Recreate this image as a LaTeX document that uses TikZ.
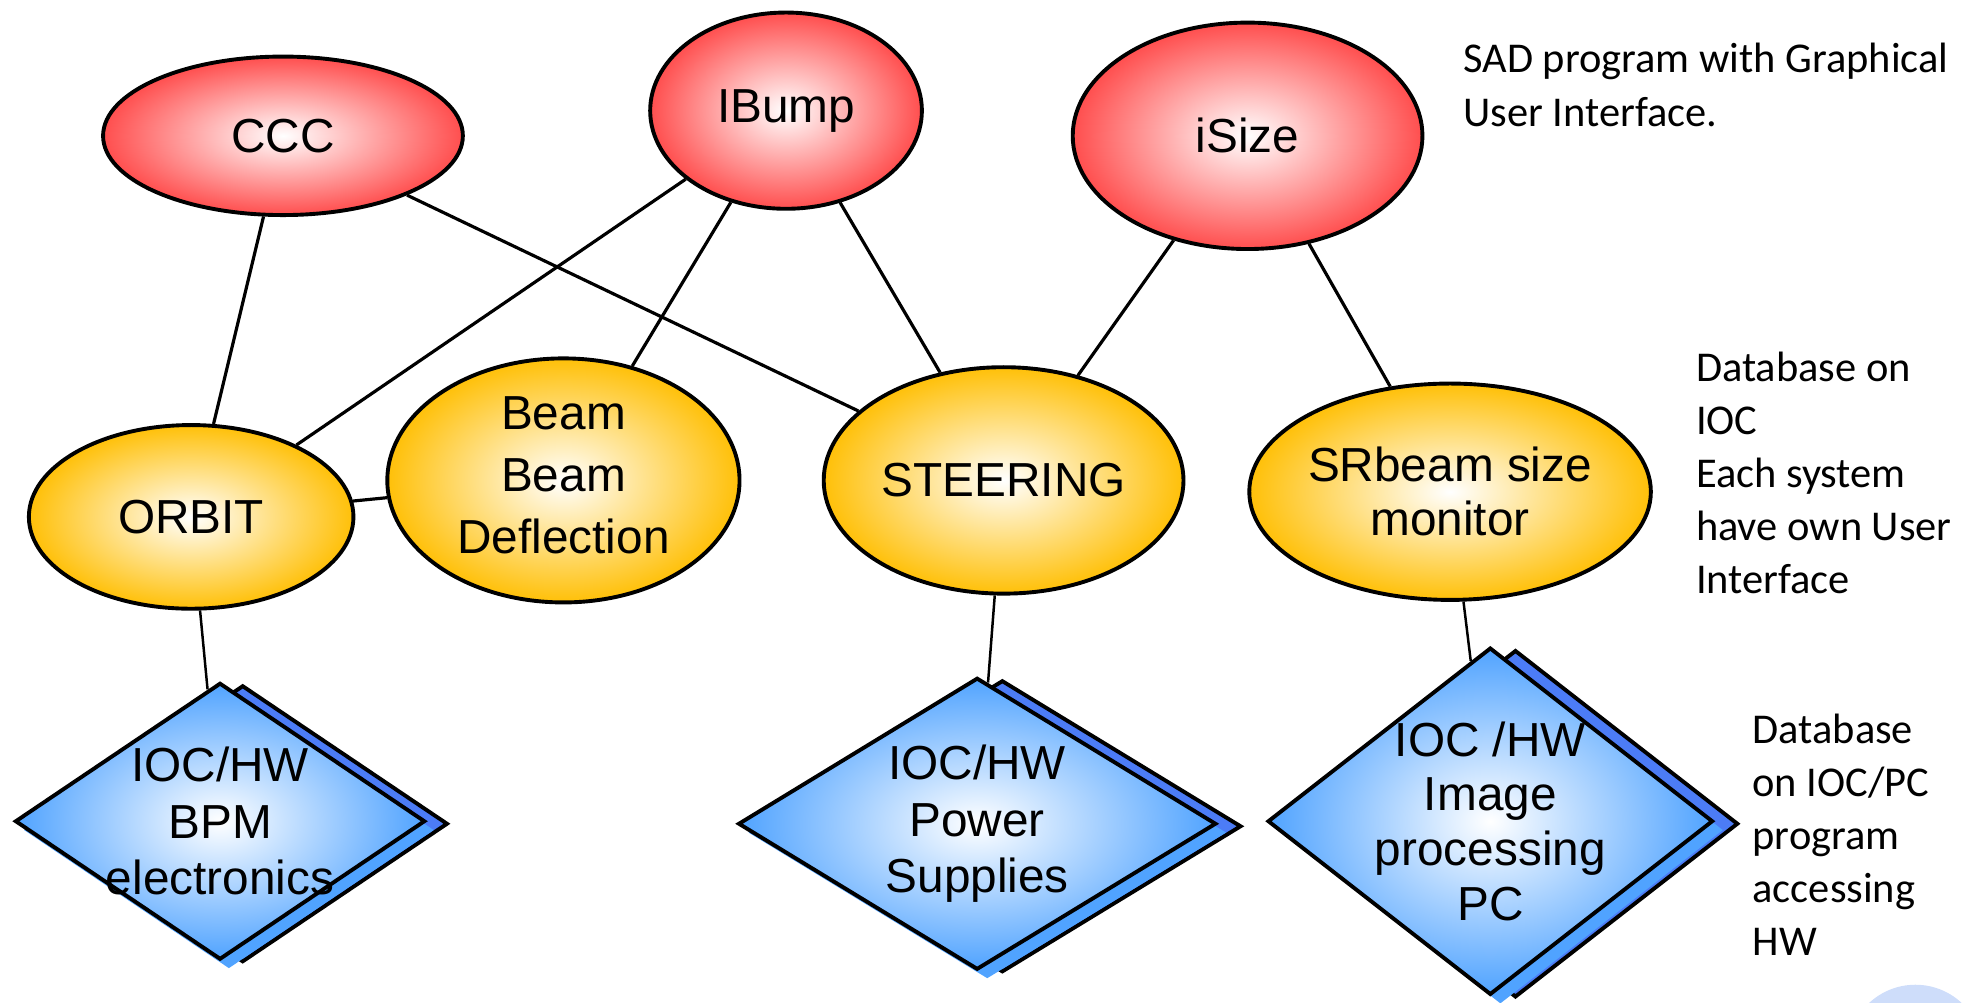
\documentclass[tikz,border=0pt]{standalone}
\usepackage{fontspec}
\setmainfont{Liberation Sans}
\newfontfamily\notefont{Carlito}
\usetikzlibrary{shapes.geometric, positioning}

\definecolor{sadred}{RGB}{255,78,78}
\definecolor{sysgold}{RGB}{255,192,8}
\definecolor{iocblue}{RGB}{80,163,255}
\definecolor{iocdeep}{RGB}{76,124,246}
\definecolor{slidedot}{RGB}{206,221,250}

\begin{document}
\begin{tikzpicture}[x=0.0125cm, y=-0.0125cm, font=\fontsize{13.5}{16}\selectfont]
				\tikzstyle{sad} = [draw=black, line width=1.1pt, ellipse, inner sep=0pt, inner color=white, outer color=sadred, align=center]
				\tikzstyle{sys} = [draw=black, line width=1.1pt, ellipse, inner sep=0pt, inner color=white, outer color=sysgold, align=center]
				\tikzstyle{ioc} = [draw=black, line width=1.1pt, diamond, inner sep=0pt, inner color=white, outer color=iocblue]
				\tikzstyle{iocback} = [draw=black, line width=1.1pt, diamond, inner sep=0pt, fill=iocdeep]
				\tikzstyle{iocrim} = [diamond, inner sep=0pt, fill=iocblue]
				\tikzstyle{note} = [anchor=north west, inner sep=0pt, align=left, font=\notefont\fontsize{12}{15}\selectfont]
				\tikzstyle{link} = [line width=0.9pt]
				\tikzstyle{wire} = [line width=0.7pt]
				
				\useasboundingbox (0,0) rectangle (1568,797);
				\clip (0,0) rectangle (1568,797);
				\fill[slidedot] (1523,837) circle (54);
				
				% SAD programs
				\node[sad, minimum width=3.575cm, minimum height=1.575cm] 	at (225, 108) 	(ccc) 	{CCC};
				\node[sad, minimum width=2.7cm, minimum height=1.95cm] 		at (625, 88) 	(ibump) {IBump};
				\node[sad, minimum width=3.475cm, minimum height=2.25cm] 	at (992, 108) 	(isize) {iSize};
				
				% systems
				\node[sys, minimum width=3.225cm, minimum height=1.825cm] 	at (152, 411) 	(orbit) {ORBIT};
				\node[sys, minimum width=3.5cm, minimum height=2.425cm, font=\fontsize{13.5}{17.5}\selectfont] 	at (448, 382) 	(bbd) 	{Beam\\Beam\\Deflection\rule[-3pt]{0pt}{3pt}};
				\node[sys, minimum width=3.575cm, minimum height=2.25cm] 	at (798, 382) 	(steer) {STEERING};
				\node[sys, minimum width=3.9cm, minimum height=2.15cm, font=\fontsize{13.5}{15.2}\selectfont] 	at (1153, 391) 	(srb) 	{SRbeam size\\monitor};
				
				% IOC / HW
				\node[iocback, minimum width=4.075cm, minimum height=2.75cm] 	at (193, 655) 	(bpmb) 	{};
				\node[iocrim, minimum width=4.075cm, minimum height=2.75cm] 	at (182, 660) 	(bpmr) 	{};
				\node[ioc, minimum width=4.075cm, minimum height=2.75cm, label={[align=center]center:IOC/HW\\BPM\\electronics}] 	at (175, 653) 	(bpm) 	{};
				\node[iocback, minimum width=4.75cm, minimum height=2.9cm] 	at (797, 657) 	(psub) 	{};
				\node[iocrim, minimum width=4.75cm, minimum height=2.9cm] 	at (785, 662) 	(psur) 	{};
				\node[ioc, minimum width=4.75cm, minimum height=2.9cm, label={[align=center]center:IOC/HW\\Power\\Supplies}] 	at (777, 655) 	(psu) 	{};
				\node[iocback, minimum width=4.425cm, minimum height=3.45cm] 	at (1205, 655) 	(imgb) 	{};
				\node[iocrim, minimum width=4.425cm, minimum height=3.45cm] 	at (1193, 660) 	(imgr) 	{};
				\node[ioc, minimum width=4.425cm, minimum height=3.45cm, label={[align=center, font=\fontsize{13.5}{15.5}\selectfont]center:IOC /HW\\Image\\processing\\PC}] 	at (1185, 653) 	(imgpc) {};
				
				% notes
				\node[note, font=\notefont\fontsize{12}{15.2}\selectfont] 	at (1163, 34) 	(sadnote) 	{SAD program with Graphical\\User Interface.};
				\node[note] 	at (1348, 279) 	(dbnote) 	{Database on\\IOC\\Each system\\have own User\\Interface};
				\node[note] 	at (1393, 567) 	(hwnote) 	{Database\\on IOC/PC\\program\\accessing\\HW};
				
				\path[link]
				(ccc)	edge	(orbit)
				(ccc)	edge	(steer)
				(ibump)	edge	(orbit)
				(ibump)	edge	(bbd)
				(ibump)	edge	(steer)
				(isize)	edge	(steer)
				(isize)	edge	(srb)
				(orbit)	edge	(bbd);
				\path[wire]
				(orbit)	edge	(bpm)
				(steer)	edge	(psu)
				(srb)	edge	(imgpc);
\end{tikzpicture}
\end{document}
